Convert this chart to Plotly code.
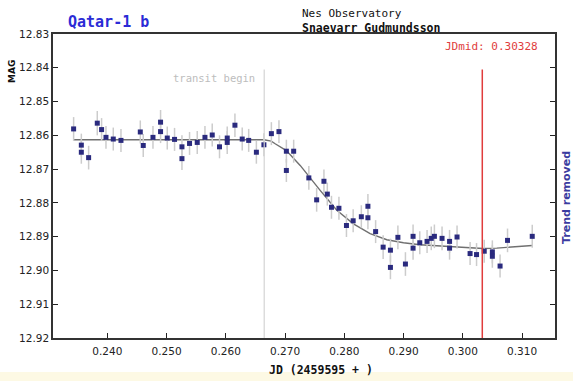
import plotly.graph_objects as go

# ---- data (JD - 2459595, magnitude) ----
jd = [0.23432, 0.23562, 0.23562, 0.23685, 0.23831, 0.23904, 0.23978, 0.24101, 0.24231,
      0.24557, 0.24607, 0.24771, 0.24899, 0.24899, 0.25012, 0.25135, 0.25260, 0.25260,
      0.25388, 0.25518, 0.25648, 0.25771, 0.25894, 0.26024, 0.26024, 0.26154, 0.26277,
      0.26386, 0.26516, 0.26643, 0.26769, 0.26897, 0.27022, 0.27022, 0.27145, 0.27401,
      0.27533, 0.27656, 0.27713, 0.27783, 0.27909, 0.28036, 0.28149, 0.28287, 0.28398,
      0.28398, 0.28528, 0.28655, 0.28778, 0.28778, 0.28904, 0.29031, 0.29160, 0.29160,
      0.29273, 0.29396, 0.29467, 0.29520, 0.29649, 0.29776, 0.29776, 0.29902, 0.30122,
      0.30231, 0.30361, 0.30498, 0.30498, 0.30628, 0.30754, 0.31171]
mag = [12.8581, 12.8629, 12.8650, 12.8666, 12.8564, 12.8583, 12.8606, 12.8611, 12.8615,
       12.8590, 12.8630, 12.8606, 12.8561, 12.8589, 12.8608, 12.8612, 12.8634, 12.8669,
       12.8624, 12.8621, 12.8606, 12.8599, 12.8634, 12.8608, 12.8621, 12.8570, 12.8611,
       12.8615, 12.8650, 12.8628, 12.8595, 12.8589, 12.8647, 12.8704, 12.8647, 12.8726,
       12.8791, 12.8736, 12.8774, 12.8813, 12.8816, 12.8867, 12.8853, 12.8841, 12.8810,
       12.8844, 12.8885, 12.8931, 12.8940, 12.8991, 12.8902, 12.8981, 12.8899, 12.8934,
       12.8918, 12.8914, 12.8905, 12.8899, 12.8905, 12.8914, 12.8934, 12.8901, 12.8950,
       12.8953, 12.8943, 12.8945, 12.8958, 12.8987, 12.8911, 12.8899]
err = [0.0035, 0.0034, 0.0034, 0.0035, 0.0036, 0.0034, 0.0034, 0.0034, 0.0034,
       0.0034, 0.0034, 0.0034, 0.0036, 0.0034, 0.0034, 0.0034, 0.0034, 0.0034,
       0.0034, 0.0034, 0.0034, 0.0034, 0.0034, 0.0034, 0.0034, 0.0035, 0.0034,
       0.0034, 0.0034, 0.0034, 0.0034, 0.0034, 0.0034, 0.0034, 0.0034, 0.0035,
       0.0035, 0.0035, 0.0034, 0.0034, 0.0034, 0.0034, 0.0034, 0.0034, 0.0036,
       0.0034, 0.0034, 0.0035, 0.0034, 0.0035, 0.0035, 0.0035, 0.0035, 0.0034,
       0.0034, 0.0034, 0.0035, 0.0035, 0.0035, 0.0034, 0.0034, 0.0034, 0.0034,
       0.0034, 0.0034, 0.0034, 0.0034, 0.0034, 0.0035, 0.0034]

# model (fitted transit curve)
model_jd = [0.23432, 0.26643, 0.26767, 0.26833, 0.27022, 0.27255, 0.27592, 0.27873,
            0.28154, 0.28435, 0.28717, 0.28998, 0.29278, 0.29560, 0.29840, 0.30122,
            0.30346, 0.30572, 0.30852, 0.31171]
model_mag = [12.8613, 12.8613, 12.8617, 12.8625, 12.8645, 12.8689, 12.8763, 12.8822,
             12.8862, 12.8891, 12.8909, 12.8918, 12.8924, 12.8928, 12.8930, 12.8933,
             12.8935, 12.8934, 12.8931, 12.8926]

transit_begin = 0.26648
jd_mid = 0.30328

x_ticks = [0.240, 0.250, 0.260, 0.270, 0.280, 0.290, 0.300, 0.310]
y_ticks = [12.83, 12.84, 12.85, 12.86, 12.87, 12.88, 12.89, 12.90, 12.91, 12.92]

MONO = "DejaVu Sans Mono"
SANS = "DejaVu Sans"

fig = go.Figure()
fig.add_trace(go.Scatter(x=model_jd, y=model_mag, mode="lines",
                         line=dict(color="#707070", width=1.4), hoverinfo="skip"))
fig.add_trace(go.Scatter(x=jd, y=mag, mode="markers",
                         marker=dict(symbol="square", size=5, color="#2a2a7e"),
                         error_y=dict(type="data", array=err, color="#cccccc",
                                      thickness=1.5, width=0)))

fig.add_shape(type="line", xref="x", yref="y", x0=transit_begin, x1=transit_begin,
              y0=12.8405, y1=12.92, line=dict(color="#d4d4d4", width=1.2))
fig.add_shape(type="line", xref="x", yref="y", x0=jd_mid, x1=jd_mid,
              y0=12.8405, y1=12.92, line=dict(color="#e03c3c", width=1.5))
# pale strip at the bottom of the picture
fig.add_shape(type="rect", xref="paper", yref="paper", x0=-0.2, x1=1.2,
              y0=-0.2, y1=-0.112, line=dict(width=0), fillcolor="#fdf9e4", layer="below")

ann = [
    dict(text="<b>Qatar-1 b</b>", x=66, y=22, xanchor="left", color="#2b2bd6", size=15, fam=MONO),
    dict(text="Nes Observatory", x=300, y=13, xanchor="left", color="#111111", size=11, fam=MONO),
    dict(text="<b>Snaevarr Gudmundsson</b>", x=300, y=28, xanchor="left", color="#111111", size=11.5, fam=MONO),
    dict(text="JDmid: 0.30328", x=540, y=46, xanchor="right", color="#e03c3c", size=11, fam=MONO),
    dict(text="transit begin", x=257, y=78, xanchor="right", color="#bdbdbd", size=10.5, fam=MONO),
    dict(text="<b>JD (2459595 + )</b>", x=321, y=370, xanchor="center", color="#111111", size=11.5, fam=MONO),
]
W, H = 573, 381
L, R, T, B = 53, 555, 34, 338
for a in ann:
    fig.add_annotation(text=a["text"], xref="paper", yref="paper",
                       x=(a["x"] - L) / (R - L), y=(B - a["y"]) / (B - T),
                       xanchor=a["xanchor"], yanchor="middle", showarrow=False,
                       font=dict(family=a["fam"], size=a["size"], color=a["color"]))
fig.add_annotation(text="<b>MAG</b>", xref="paper", yref="paper",
                   x=(12 - L) / (R - L), y=(B - 72) / (B - T), textangle=-90,
                   xanchor="center", yanchor="middle", showarrow=False,
                   font=dict(family=SANS, size=9, color="#111111"))
fig.add_annotation(text="<b>Trend removed</b>", xref="paper", yref="paper",
                   x=(566 - L) / (R - L), y=(B - 198) / (B - T), textangle=-90,
                   xanchor="center", yanchor="middle", showarrow=False,
                   font=dict(family=SANS, size=11, color="#3b3ba0"))

fig.update_layout(
    width=W, height=H, showlegend=False,
    margin=dict(l=L, r=W - R, t=T, b=H - B),
    paper_bgcolor="white", plot_bgcolor="white",
    xaxis=dict(range=[0.23084, 0.31555], tickvals=x_ticks, tickformat=".3f",
               ticks="inside", ticklen=5, tickcolor="#222", showgrid=False, zeroline=False,
               showline=True, linecolor="#333", linewidth=1.5, mirror=True,
               ticklabelstandoff=3,
               tickfont=dict(family=SANS, size=10.5, color="#222")),
    yaxis=dict(range=[12.92, 12.83], tickvals=y_ticks, tickformat=".2f",
               ticks="inside", ticklen=5, tickcolor="#222", showgrid=False, zeroline=False,
               showline=True, linecolor="#333", linewidth=1.5, mirror="ticks",
               tickfont=dict(family=SANS, size=10.5, color="#222")),
)

fig.write_html("out.html")
